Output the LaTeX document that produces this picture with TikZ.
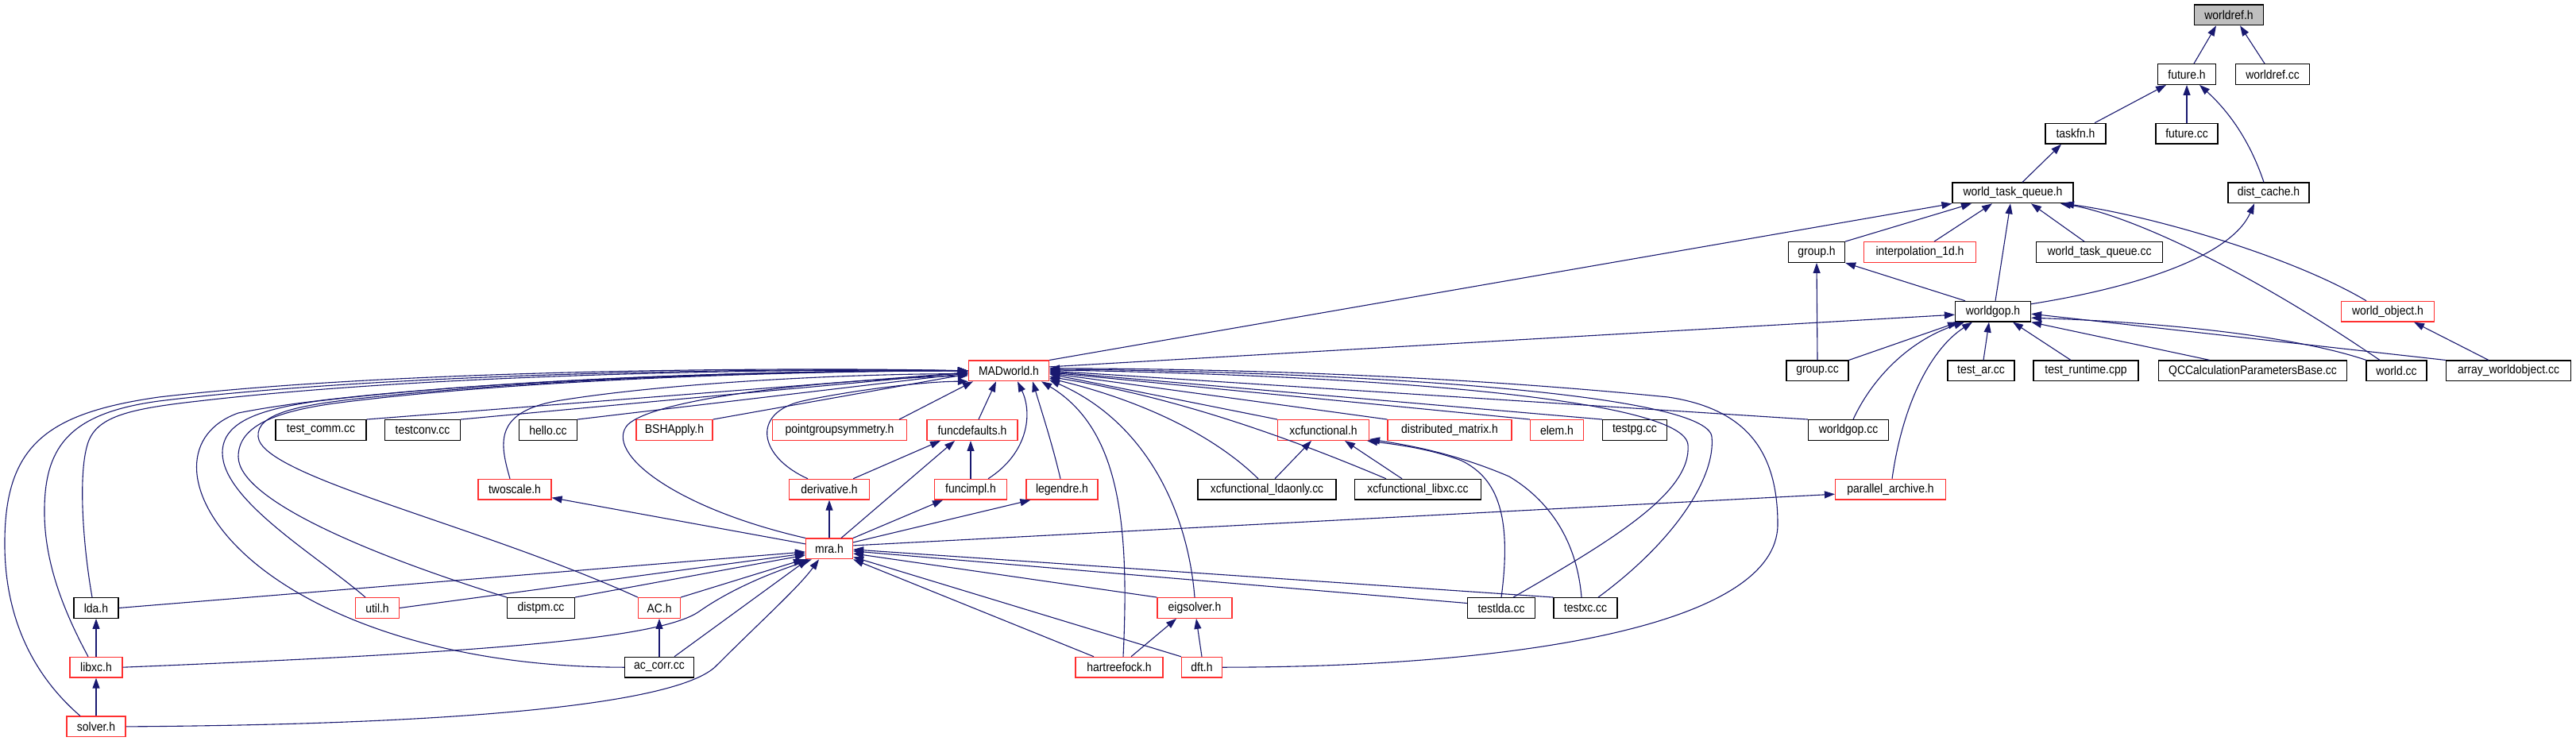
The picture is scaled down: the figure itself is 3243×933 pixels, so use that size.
\documentclass[tikz,border=0pt]{standalone}
\usepackage{fontspec}
\setmainfont{Liberation Sans}[FakeStretch=0.9]
\usetikzlibrary{arrows.meta}
\definecolor{navy}{RGB}{25,25,112}
\definecolor{truncred}{RGB}{255,48,48}
\definecolor{rootgray}{RGB}{191,191,191}
\tikzset{
  file/.style={draw=black, fill=white, line width=1.2pt, minimum height=25.7pt,
    inner sep=0pt, font=\fontsize{15.5}{17}\selectfont},
  trunc/.style={file, draw=truncred},
  root/.style={file, fill=rootgray},
  wd/.style={minimum width=#1pt},
  dep/.style={draw=navy, line width=1.1pt, -{Triangle[length=13pt,width=9pt]}},
}
\begin{document}
\begin{tikzpicture}[x=1pt,y=-1pt]
\path[use as bounding box, fill=white] (0,0) rectangle (3243,933);
% files, one row per rank
\node[root, wd=87] (worldrefh) at (2806,18.9) {worldref.h};
\node[file, wd=73] (futureh) at (2753,93.5) {future.h};
\node[file, wd=93] (worldrefcc) at (2861,93.5) {worldref.cc};
\node[file, wd=76] (taskfnh) at (2613,168.2) {taskfn.h};
\node[file, wd=78] (futurecc) at (2753,168.2) {future.cc};
\node[file, wd=152] (wtqh) at (2534,242.9) {world\_task\_queue.h};
\node[file, wd=102] (distcacheh) at (2856,242.9) {dist\_cache.h};
\node[file, wd=71] (grouph) at (2287,317.5) {group.h};
\node[trunc, wd=141] (interph) at (2417,317.5) {interpolation\_1d.h};
\node[file, wd=159] (wtqcc) at (2643,317.5) {world\_task\_queue.cc};
\node[file, wd=95] (worldgoph) at (2509,392.2) {worldgop.h};
\node[trunc, wd=117] (worldobjh) at (3006,392.2) {world\_object.h};
\node[trunc, wd=101] (madworldh) at (1270,466.9) {MADworld.h};
\node[file, wd=78] (groupcc) at (2288,466.9) {group.cc};
\node[file, wd=84] (testarcc) at (2494,466.9) {test\_ar.cc};
\node[file, wd=132] (testrtcpp) at (2626,466.9) {test\_runtime.cpp};
\node[file, wd=237] (qccc) at (2836,466.9) {QCCalculationParametersBase.cc};
\node[file, wd=76] (worldcc) at (3017,466.9) {world.cc};
\node[file, wd=157] (arrwocc) at (3158,466.9) {array\_worldobject.cc};
\node[file, wd=114] (testcommcc) at (404,541.5) {test\_comm.cc};
\node[file, wd=95] (testconvcc) at (532,541.5) {testconv.cc};
\node[file, wd=73] (hellocc) at (690,541.5) {hello.cc};
\node[trunc, wd=96] (bshapplyh) at (849,541.5) {BSHApply.h};
\node[trunc, wd=169] (pgsymh) at (1057,541.5) {pointgroupsymmetry.h};
\node[trunc, wd=114] (funcdefh) at (1224,541.5) {funcdefaults.h};
\node[trunc, wd=115] (xcfunch) at (1666,541.5) {xcfunctional.h};
\node[trunc, wd=156] (distmath) at (1825,541.5) {distributed\_matrix.h};
\node[trunc, wd=67] (elemh) at (1960,541.5) {elem.h};
\node[file, wd=81] (testpgcc) at (2058,541.5) {testpg.cc};
\node[file, wd=101] (worldgopcc) at (2327,541.5) {worldgop.cc};
\node[trunc, wd=92] (twoscaleh) at (648,616.2) {twoscale.h};
\node[trunc, wd=101] (derivh) at (1044,616.2) {derivative.h};
\node[trunc, wd=91] (funcimplh) at (1222,616.2) {funcimpl.h};
\node[trunc, wd=90] (legendreh) at (1337,616.2) {legendre.h};
\node[file, wd=174] (xcldacc) at (1595,616.2) {xcfunctional\_ldaonly.cc};
\node[file, wd=159] (xclibxccc) at (1785,616.2) {xcfunctional\_libxc.cc};
\node[trunc, wd=139] (pararchh) at (2380,616.2) {parallel\_archive.h};
\node[trunc, wd=59] (mrah) at (1044,690.9) {mra.h};
\node[file, wd=56] (ldah) at (121,765.5) {lda.h};
\node[trunc, wd=55] (utilh) at (475,765.5) {util.h};
\node[file, wd=85] (distpmcc) at (681,765.5) {distpm.cc};
\node[trunc, wd=53] (ach) at (830,765.5) {AC.h};
\node[trunc, wd=94] (eigsolverh) at (1504,765.5) {eigsolver.h};
\node[file, wd=85] (testldacc) at (1890,765.5) {testlda.cc};
\node[file, wd=80] (testxccc) at (1996,765.5) {testxc.cc};
\node[trunc, wd=66] (libxch) at (121,840.2) {libxc.h};
\node[file, wd=87] (accorrcc) at (830,840.2) {ac\_corr.cc};
\node[trunc, wd=110] (hartreeh) at (1409,840.2) {hartreefock.h};
\node[trunc, wd=51] (dfth) at (1513,840.2) {dft.h};
\node[trunc, wd=74] (solverh) at (121,914.9) {solver.h};
% upper part
\draw[dep] ([xshift=9pt]futureh.north) -- ([xshift=-16pt]worldrefh.south);
\draw[dep] ([xshift=-10pt]worldrefcc.north) -- ([xshift=14pt]worldrefh.south);
\draw[dep] ([xshift=24pt]taskfnh.north) -- ([xshift=-26pt]futureh.south);
\draw[dep] (futurecc.north) -- (futureh.south);
\draw[dep] ([xshift=-6pt]distcacheh.north) .. controls (2830,170) and (2800,135) .. ([xshift=16pt]futureh.south);
\draw[dep] ([xshift=12pt]wtqh.north) -- ([xshift=-18pt]taskfnh.south);
\draw[dep] (madworldh.north east) -- (wtqh.south west);
\draw[dep] (grouph.north east) -- ([xshift=-52pt]wtqh.south);
\draw[dep] ([xshift=18pt]interph.north) -- ([xshift=-26pt]wtqh.south);
\draw[dep] ([xshift=3pt]worldgoph.north) -- ([xshift=-3pt]wtqh.south);
\draw[dep] ([xshift=-19pt]wtqcc.north) -- ([xshift=23pt]wtqh.south);
\draw[dep] ([xshift=-21pt]worldcc.north) .. controls (2830,340) and (2680,270) .. ([xshift=60pt]wtqh.south);
\draw[dep] ([xshift=-27pt]worldobjh.north) .. controls (2880,320) and (2700,270) .. ([xshift=64pt]wtqh.south);
\draw[dep] ([yshift=-4pt]worldgoph.north east) .. controls (2700,360) and (2810,320) .. ([xshift=-18pt]distcacheh.south);
% worldgop.h
\draw[dep] ([yshift=5pt]madworldh.east) -- ([yshift=-4pt]worldgoph.west);
\draw[dep] ([xshift=-35pt]worldgoph.north) -- (grouph.south east);
\draw[dep] (groupcc.north) -- (grouph.south);
\draw[dep] (groupcc.north east) -- ([xshift=-44pt]worldgoph.south);
\draw[dep] ([xshift=6pt]worldgopcc.north) .. controls (2355,480) and (2400,430) .. ([xshift=-36pt]worldgoph.south);
\draw[dep] ([xshift=2pt]pararchh.north) .. controls (2395,510) and (2430,440) .. ([xshift=-26pt]worldgoph.south);
\draw[dep] ([xshift=3pt]testarcc.north) -- ([xshift=-5pt]worldgoph.south);
\draw[dep] ([xshift=-19pt]testrtcpp.north) -- ([xshift=25pt]worldgoph.south);
\draw[dep] ([xshift=-54pt]qccc.north) -- (worldgoph.south east);
\draw[dep] ([xshift=-38pt]worldcc.north) .. controls (2880,420) and (2700,405) .. ([yshift=-8pt]worldgoph.east);
\draw[dep] (arrwocc.north west) -- ([yshift=-3pt]worldgoph.east);
\draw[dep] ([xshift=-25pt]arrwocc.north) -- ([xshift=33pt]worldobjh.south);
\draw[dep] ([yshift=4pt]mrah.east) -- ([yshift=-6pt]pararchh.west);
% MADworld.h from the left
\draw[dep] ([xshift=-20pt]solverh.north) .. controls (30,840) and (5,760) .. (6,680)
  .. controls (7,560) and (60,520) .. (200,500) .. controls (500,465) and (1000,462) .. (madworldh.west);
\draw[dep] ([xshift=-10pt]libxch.north) .. controls (75,760) and (55,700) .. (56,640)
  .. controls (57,560) and (90,520) .. (200,505) .. controls (500,468) and (1000,463) .. (madworldh.west);
\draw[dep] ([xshift=-5pt]ldah.north) .. controls (105,690) and (98,600) .. (110,560)
  .. controls (120,525) and (160,515) .. (250,505) .. controls (550,470) and (1000,464) .. (madworldh.west);
\draw[dep] (accorrcc.west) .. controls (550,840) and (380,770) .. (300,690)
  .. controls (230,620) and (230,545) .. (300,520) .. controls (500,480) and (1000,465) .. (madworldh.west);
\draw[dep] ([xshift=-15pt]utilh.north) .. controls (400,700) and (280,630) .. (280,570)
  .. controls (280,530) and (330,515) .. (400,505) .. controls (650,475) and (1000,466) .. (madworldh.west);
\draw[dep] (distpmcc.north west) .. controls (470,700) and (300,630) .. (300,575)
  .. controls (300,535) and (350,518) .. (420,508) .. controls (650,478) and (1000,467) .. (madworldh.west);
\draw[dep] (ach.north west) .. controls (600,660) and (330,600) .. (325,550)
  .. controls (322,520) and (380,510) .. (450,502) .. controls (700,475) and (1000,467) .. (madworldh.west);
\draw[dep] ([xshift=-6pt]twoscaleh.north) .. controls (630,560) and (620,520) .. (700,505)
  .. controls (850,480) and (1100,470) .. ([yshift=-4pt]madworldh.west);
\draw[dep] (mrah.north west) .. controls (850,640) and (760,570) .. (790,535)
  .. controls (820,505) and (1000,480) .. ([yshift=-6pt]madworldh.west);
\draw[dep] ([xshift=-27pt]derivh.north) .. controls (955,575) and (945,520) .. (1010,505)
  .. controls (1080,490) and (1170,480) .. (madworldh.south west);
\draw[dep] (testcommcc.north east) -- ([yshift=-2pt]madworldh.west);
\draw[dep] (testconvcc.north east) -- ([yshift=-2pt]madworldh.west);
\draw[dep] (hellocc.north east) -- ([yshift=-3pt]madworldh.west);
\draw[dep] (bshapplyh.north east) -- ([yshift=-4pt]madworldh.west);
\draw[dep] ([xshift=-10pt]pgsymh.north east) -- ([xshift=6pt]madworldh.south west);
\draw[dep] ([xshift=8pt]funcdefh.north) -- ([xshift=-16pt]madworldh.south);
\draw[dep] ([xshift=22pt]funcimplh.north) .. controls (1295,570) and (1300,520) .. ([xshift=11pt]madworldh.south);
\draw[dep] ([xshift=-2pt]legendreh.north) .. controls (1325,560) and (1312,520) .. ([xshift=30pt]madworldh.south);
% MADworld.h from the right
\draw[dep] ([xshift=5pt]hartreeh.north) .. controls (1422,660) and (1410,540) .. ([xshift=-10pt]madworldh.south east);
\draw[dep] (eigsolverh.north) .. controls (1495,640) and (1440,530) .. ([yshift=2pt]madworldh.south east);
\draw[dep] ([xshift=-11pt]xcldacc.north) .. controls (1520,540) and (1420,500) .. ([yshift=4pt]madworldh.south east);
\draw[dep] ([xshift=-40pt]xclibxccc.north) .. controls (1620,550) and (1480,500) .. ([yshift=6pt]madworldh.south east);
\draw[dep] (xcfunch.north west) -- ([yshift=-4pt]madworldh.east);
\draw[dep] (distmath.north west) -- ([yshift=-3pt]madworldh.east);
\draw[dep] (elemh.north west) -- ([yshift=-2pt]madworldh.east);
\draw[dep] (testpgcc.north west) -- ([yshift=-1pt]madworldh.east);
\draw[dep] (worldgopcc.north west) -- (madworldh.east);
\draw[dep] ([xshift=15pt]testldacc.north) .. controls (2030,680) and (2130,620) .. (2125,560)
  .. controls (2120,500) and (1700,472) .. ([yshift=1pt]madworldh.east);
\draw[dep] ([xshift=16pt]testxccc.north) .. controls (2110,680) and (2160,600) .. (2155,550)
  .. controls (2150,495) and (1700,468) .. ([yshift=2pt]madworldh.east);
\draw[dep] (dfth.east) .. controls (1900,840) and (2238,790) .. (2238,660)
  .. controls (2238,570) and (2200,515) .. (2100,500) .. controls (1800,470) and (1500,464) .. ([yshift=3pt]madworldh.east);
% xcfunctional.h
\draw[dep] ([xshift=10pt]xcldacc.north) -- ([xshift=-15pt]xcfunch.south);
\draw[dep] ([xshift=-20pt]xclibxccc.north) -- ([xshift=27pt]xcfunch.south);
\draw[dep] (testldacc.north) .. controls (1905,640) and (1880,600) .. (1840,580)
  .. controls (1800,565) and (1760,560) .. ([xshift=-3pt]xcfunch.south east);
\draw[dep] ([xshift=-5pt]testxccc.north) .. controls (1985,680) and (1950,630) .. (1900,600)
  .. controls (1830,570) and (1770,560) .. ([yshift=2pt]xcfunch.south east);
% funcdefaults.h and mra.h
\draw[dep] (funcimplh.north) -- ([xshift=-2pt]funcdefh.south);
\draw[dep] ([xshift=-21pt]derivh.north east) -- ([xshift=-40pt]funcdefh.south);
\draw[dep] ([xshift=15pt]mrah.north) -- ([xshift=-22pt]funcdefh.south);
\draw[dep] (mrah.north) -- (derivh.south);
\draw[dep] (mrah.north east) -- ([xshift=-35pt]funcimplh.south);
\draw[dep] ([yshift=8pt]mrah.east) -- ([xshift=6pt]legendreh.south west);
\draw[dep] ([yshift=6pt]mrah.west) -- ([yshift=3pt]twoscaleh.south east);
\draw[dep] (ldah.east) -- ([yshift=-4pt]mrah.west);
\draw[dep] (utilh.east) -- ([yshift=-6pt]mrah.west);
\draw[dep] (distpmcc.north east) -- ([yshift=-8pt]mrah.west);
\draw[dep] (ach.north east) -- ([xshift=-2pt]mrah.south west);
\draw[dep] (libxch.east) .. controls (600,822) and (830,805) .. (880,770)
  .. controls (930,735) and (990,715) .. ([xshift=8pt]mrah.south west);
\draw[dep] ([xshift=19pt]accorrcc.north) -- ([xshift=3pt]mrah.south west);
\draw[dep] (accorrcc.north) -- (ach.south);
\draw[dep] (solverh.east) .. controls (600,912) and (850,885) .. (900,840)
  .. controls (960,780) and (1005,740) .. ([xshift=-13pt]mrah.south);
\draw[dep] (eigsolverh.north west) -- ([yshift=-6pt]mrah.east);
\draw[dep] ([xshift=-32pt]hartreeh.north) -- (mrah.south east);
\draw[dep] (dfth.north west) -- ([yshift=3pt]mrah.south east);
\draw[dep] ([yshift=6pt]testldacc.west) -- ([yshift=-3pt]mrah.east);
\draw[dep] (testxccc.north west) -- ([yshift=-1pt]mrah.east);
\draw[dep] ([xshift=15pt]hartreeh.north) -- ([xshift=-23pt]eigsolverh.south);
\draw[dep] (dfth.north) -- ([xshift=2pt]eigsolverh.south);
\draw[dep] (libxch.north) -- (ldah.south);
\draw[dep] (solverh.north) -- (libxch.south);
\end{tikzpicture}
\end{document}
